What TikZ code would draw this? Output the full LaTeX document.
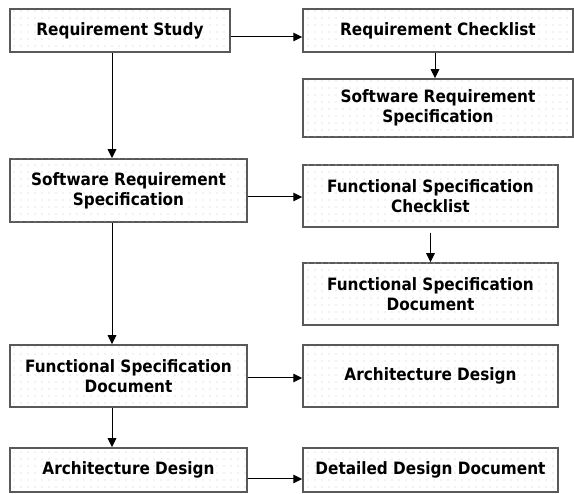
\documentclass[tikz,border=0pt]{standalone}
\usepackage{fontspec}
\usepackage{xcolor}
\usepackage{tikz}
\usetikzlibrary{arrows.meta, patterns.meta}
\newfontfamily\boxfont{DejaVu Sans Condensed}
\colorlet{BoxEdge}{black!65}
\colorlet{BoxDots}{black!22}
\tikzset{
  docbox/.style={draw=BoxEdge, line width=1.5pt, fill=white, align=center, inner sep=1pt,
    font=\boxfont\bfseries\fontsize{17}{20}\selectfont,
    postaction={pattern={Dots[distance=7pt, radius=0.55pt]}, pattern color=BoxDots}},
  onebox/.style={docbox, minimum height=43pt},
  twobox/.style={docbox, minimum height=62pt},
  flow/.style={-{Triangle[length=9pt, width=8.5pt]}, line width=1pt, black},
}

\begin{document}
\begin{tikzpicture}[x=1pt, y=-1pt]
    \useasboundingbox (0,0) rectangle (574,494);
    % left column
    \node[onebox, minimum width=220pt] (study) at (120,30.5) {Requirement Study};
    \node[twobox, minimum width=237pt, minimum height=63pt] (srs) at (128.5,190.5) {Software Requirement\\Specification};
    \node[twobox, minimum width=237pt] (fsd) at (128.5,376) {Functional Specification\\Document};
    \node[onebox, minimum width=237pt, minimum height=44pt] (arch) at (128.5,470) {Architecture Design};
    % right column
    \node[onebox, minimum width=270pt] (check) at (438,30.5) {Requirement Checklist};
    \node[twobox, minimum width=270pt, minimum height=58pt] (srsout) at (438,108) {Software Requirement\\Specification};
    \node[twobox, minimum width=255pt] (fscheck) at (430.5,196) {Functional Specification\\Checklist};
    \node[twobox, minimum width=255pt] (fsdout) at (430.5,294) {Functional Specification\\Document};
    \node[twobox, minimum width=255pt] (archout) at (430.5,376) {Architecture Design};
    \node[onebox, minimum width=255pt, minimum height=44pt] (detail) at (430.5,470) {Detailed Design Document};
    % connectors
    \coordinate (spine) at (112,0);
    \draw[flow] (study.south -| spine) -- (srs.north -| spine);
    \draw[flow] (srs.south -| spine) -- (fsd.north -| spine);
    \draw[flow] (fsd.south -| spine) -- (arch.north -| spine);
    \draw[flow] ([yshift=-6.5pt]study.east) -- ([yshift=-6.5pt]study.east -| check.west);
    \draw[flow] ([yshift=-6.5pt]srs.east) -- ([yshift=-6.5pt]srs.east -| fscheck.west);
    \draw[flow] ([yshift=-2pt]fsd.east) -- ([yshift=-2pt]fsd.east -| archout.west);
    \draw[flow] ([yshift=-9pt]arch.east) -- ([yshift=-9pt]arch.east -| detail.west);
    \draw[flow] ([xshift=-3pt]check.south) -- ([xshift=-3pt]srsout.north);
    \draw[flow, shorten <=5pt] (fscheck.south) -- (fsdout.north);
  \end{tikzpicture}
\end{document}
